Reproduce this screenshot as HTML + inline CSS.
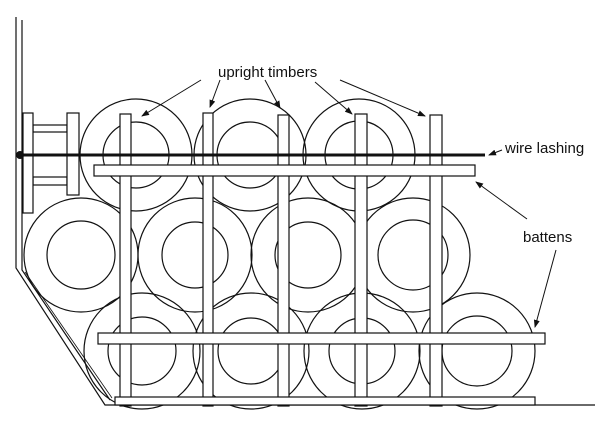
<!DOCTYPE html>
<html><head><style>
html,body{margin:0;padding:0;background:#fff;}
svg{display:block;}
text{font-family:"Liberation Sans",sans-serif;font-size:15px;fill:#111;}
</style></head><body>
<svg width="605" height="423" viewBox="0 0 605 423" xmlns="http://www.w3.org/2000/svg">
<defs>
<marker id="ah" markerWidth="8" markerHeight="6" refX="7" refY="3" orient="auto" markerUnits="userSpaceOnUse">
<path d="M0,0 L8,3 L0,6 Z" fill="#111"/>
</marker>
</defs>
<g fill="none" stroke="#111" stroke-width="1.2">
<path d="M16,17 L16,268 L105,405 L595,405" />
<path d="M22,20 L22,270 L110,400" />
<path d="M25,272 L112,398" stroke-width="0.8"/>
<circle cx="142" cy="351" r="58"/><circle cx="142" cy="351" r="34"/>
<circle cx="251" cy="351" r="58"/><circle cx="251" cy="351" r="33"/>
<circle cx="362" cy="351" r="58"/><circle cx="362" cy="351" r="33"/>
<circle cx="477" cy="351" r="58"/><circle cx="477" cy="351" r="35"/>
<circle cx="81" cy="255" r="57"/><circle cx="81" cy="255" r="34"/>
<circle cx="195" cy="255" r="57"/><circle cx="195" cy="255" r="33"/>
<circle cx="308" cy="255" r="57"/><circle cx="308" cy="255" r="33"/>
<circle cx="413" cy="255" r="57"/><circle cx="413" cy="255" r="35"/>
<circle cx="136" cy="155" r="56"/><circle cx="136" cy="155" r="33"/>
<circle cx="250" cy="155" r="56"/><circle cx="250" cy="155" r="33"/>
<circle cx="359" cy="155" r="56"/><circle cx="359" cy="155" r="34"/>
</g>
<g fill="#fff" stroke="#111" stroke-width="1.2">
<rect x="33" y="125" width="34" height="7"/>
<rect x="33" y="177" width="34" height="8"/>
<rect x="23" y="113" width="10" height="100"/>
<rect x="67" y="113" width="12" height="82"/>
<rect x="120" y="114" width="11" height="292"/>
<rect x="203" y="113" width="10" height="293"/>
<rect x="278" y="115" width="11" height="291"/>
<rect x="355" y="114" width="12" height="292"/>
<rect x="430" y="115" width="12" height="291"/>
<rect x="94" y="165" width="381" height="11"/>
<rect x="98" y="333" width="447" height="11"/>
<rect x="115" y="397" width="420" height="8"/>
</g>
<line x1="16" y1="155" x2="485" y2="155" stroke="#111" stroke-width="3"/>
<circle cx="20" cy="155" r="4" fill="#111"/>
<g stroke="#111" stroke-width="1" fill="none" marker-end="url(#ah)">
<line x1="201" y1="80" x2="142" y2="116"/>
<line x1="220" y1="80" x2="210" y2="107"/>
<line x1="265" y1="80" x2="280" y2="108"/>
<line x1="315" y1="82" x2="352" y2="114"/>
<line x1="340" y1="80" x2="425" y2="116"/>
<line x1="502" y1="150" x2="489" y2="155"/>
<line x1="527" y1="219" x2="476" y2="182"/>
<line x1="556" y1="250" x2="535" y2="327"/>
</g>
<text x="218" y="77">upright timbers</text>
<text x="505" y="153">wire lashing</text>
<text x="523" y="242">battens</text>
</svg>
</body></html>
